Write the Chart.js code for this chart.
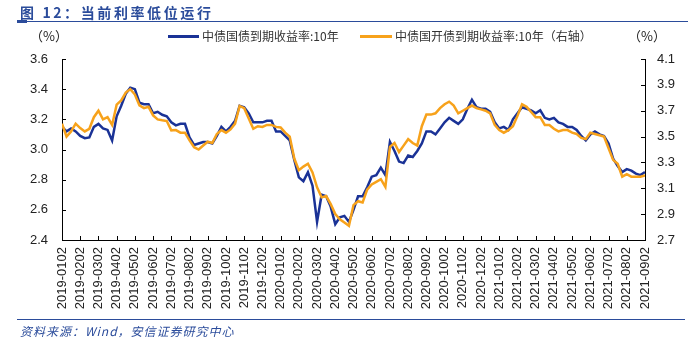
<!DOCTYPE html>
<html>
<head>
<meta charset="utf-8">
<script src="https://cdn.jsdelivr.net/npm/chart.js@4"></script>
<style>
  html, body { margin: 0; padding: 0; background: #fff; }
  #wrap { position: relative; width: 688px; height: 343px; overflow: hidden; font-family: "Liberation Sans", Arial, "Noto Sans CJK SC", sans-serif; }
  #title { position: absolute; left: 20px; top: 2px; font-size: 14px; font-weight: bold; color: #2b4c9b; font-family: "Noto Sans CJK SC", sans-serif; letter-spacing: 2.6px; white-space: nowrap; }
  #rule1 { position: absolute; left: 17px; top: 21px; width: 671px; height: 1px; background: #2b4c9b; }
  #rule1b { position: absolute; left: 17px; top: 20px; width: 10px; height: 3px; background: #2b4c9b; }
  #rule2 { position: absolute; left: 17px; top: 319px; width: 668px; height: 1px; background: #2b4c9b; }
  #source { position: absolute; left: 20px; top: 322px; font-size: 12px; font-style: italic; color: #2b4c9b; font-family: "Noto Sans CJK SC", sans-serif; letter-spacing: 1px; white-space: nowrap; }
  .unit { position: absolute; top: 26px; font-size: 13px; color: #222; font-family: "Noto Sans CJK SC", sans-serif; }
  .leg { position: absolute; top: 27px; font-size: 12px; color: #333; font-family: "Noto Sans CJK SC", sans-serif; white-space: nowrap; }
  .legline { position: absolute; top: 35px; height: 3px; }
  canvas { position: absolute; left: 0; top: 0; }
</style>
</head>
<body>
<div id="wrap">
  <canvas id="c" width="688" height="343"></canvas>
  <div id="title">图 12：当前利率低位运行</div>
  <div id="rule1"></div><div id="rule1b"></div>
  <div class="unit" style="left:30px;">（%）</div>
  <div class="unit" style="left:628px;">（%）</div>
  <div class="legline" style="left:168px;width:31px;background:#1a3296;"></div>
  <div class="leg" style="left:202px;">中债国债到期收益率:10年</div>
  <div class="legline" style="left:360px;width:32px;background:#f7a21b;"></div>
  <div class="leg" style="left:395px;">中债国开债到期收益率:10年（右轴）</div>
  <div id="rule2"></div>
  <div id="source">资料来源：Wind，安信证券研究中心</div>
</div>
<script>
// Tick labels (one per month start)
const monthLabels = [
  "2019-0102","2019-0202","2019-0302","2019-0402","2019-0502","2019-0602","2019-0702","2019-0802","2019-0902","2019-1002","2019-1102","2019-1202",
  "2020-0102","2020-0202","2020-0302","2020-0402","2020-0502","2020-0602","2020-0702","2020-0802","2020-0902","2020-1002","2020-1102","2020-1202",
  "2021-0102","2021-0202","2021-0302","2021-0402","2021-0502","2021-0602","2021-0702","2021-0802","2021-0902"
];
const pointsPerMonth = 4;

// 中债国债到期收益率:10年 (left axis), roughly weekly readings
const govYield = [
  3.15,3.12,3.14,3.12, 3.09,3.075,3.08,3.15, 3.17,3.14,3.13,3.06,
  3.22,3.29,3.37,3.41, 3.40,3.31,3.30,3.30, 3.24,3.25,3.23,3.22,
  3.18,3.16,3.17,3.17, 3.08,3.03,3.04,3.05, 3.05,3.04,3.09,3.15,
  3.12,3.15,3.19,3.29, 3.28,3.24,3.18,3.18, 3.18,3.19,3.19,3.12,
  3.12,3.09,3.06,2.93, 2.815,2.79,2.85,2.76, 2.52,2.70,2.69,2.62,
  2.505,2.55,2.56,2.52, 2.60,2.69,2.69,2.75, 2.82,2.83,2.88,2.83,
  3.05,2.99,2.92,2.91, 2.96,2.95,2.99,3.04, 3.12,3.12,3.10,3.14,
  3.18,3.21,3.19,3.17, 3.20,3.27,3.33,3.28, 3.27,3.27,3.25,3.18,
  3.14,3.15,3.13,3.20, 3.24,3.28,3.27,3.26, 3.24,3.26,3.21,3.20,
  3.21,3.18,3.17,3.15, 3.15,3.13,3.09,3.06, 3.10,3.12,3.10,3.09,
  3.04,2.94,2.89,2.85, 2.87,2.86,2.84,2.83, 2.85
];

// 中债国开债到期收益率:10年 (right axis)
const cdbYield = [
  3.60,3.50,3.54,3.60, 3.566,3.54,3.56,3.65, 3.70,3.633,3.65,3.59,
  3.747,3.78,3.84,3.867, 3.825,3.742,3.72,3.73, 3.664,3.633,3.626,3.62,
  3.548,3.55,3.53,3.53, 3.47,3.418,3.40,3.431, 3.46,3.45,3.52,3.55,
  3.53,3.555,3.60,3.737, 3.72,3.64,3.56,3.58, 3.575,3.59,3.59,3.575,
  3.57,3.53,3.50,3.33, 3.24,3.268,3.29,3.223, 3.107,3.03,3.04,2.977,
  2.90,2.86,2.835,2.81, 2.97,3.00,2.99,3.09, 3.13,3.15,3.17,3.11,
  3.42,3.45,3.38,3.43, 3.48,3.45,3.43,3.58, 3.67,3.67,3.68,3.72,
  3.75,3.77,3.74,3.68, 3.70,3.72,3.74,3.72, 3.71,3.70,3.68,3.59,
  3.55,3.53,3.55,3.58, 3.66,3.75,3.73,3.69, 3.65,3.65,3.59,3.59,
  3.56,3.54,3.55,3.55, 3.53,3.52,3.49,3.48, 3.53,3.52,3.51,3.50,
  3.41,3.32,3.29,3.19, 3.21,3.19,3.19,3.19, 3.20
];

const leftTicks = { min: 2.4, max: 3.6, step: 0.2 };
const rightTicks = { min: 2.7, max: 4.1, step: 0.2 };

const inwardTicks = {
  id: 'inwardTicks',
  afterDraw(chart) {
    const ctx = chart.ctx, a = chart.chartArea, len = 4;
    ctx.save();
    ctx.strokeStyle = '#000';
    ctx.lineWidth = 1;
    ctx.beginPath();
    chart.scales.x.ticks.forEach(t => {
      const px = Math.round(chart.scales.x.getPixelForValue(t.value)) + 0.5;
      ctx.moveTo(px, a.bottom); ctx.lineTo(px, a.bottom - len);
    });
    chart.scales.y.ticks.forEach(t => {
      const py = Math.round(chart.scales.y.getPixelForValue(t.value)) + 0.5;
      ctx.moveTo(a.left, py); ctx.lineTo(a.left + len, py);
    });
    chart.scales.y1.ticks.forEach(t => {
      const py = Math.round(chart.scales.y1.getPixelForValue(t.value)) + 0.5;
      ctx.moveTo(a.right, py); ctx.lineTo(a.right - len, py);
    });
    ctx.stroke();
    ctx.restore();
  }
};

const tickFont = { family: '"Liberation Sans", Arial, sans-serif', size: 13 };

new Chart(document.getElementById('c'), {
  type: 'line',
  data: {
    datasets: [
      {
        label: '中债国开债到期收益率:10年（右轴）',
        data: cdbYield.map((v, i) => ({ x: i, y: v })),
        yAxisID: 'y1',
        borderColor: '#f7a21b',
        borderWidth: 2.5,
        pointRadius: 0,
        tension: 0,
        order: 0
      },
      {
        label: '中债国债到期收益率:10年',
        data: govYield.map((v, i) => ({ x: i, y: v })),
        yAxisID: 'y',
        borderColor: '#1a3296',
        borderWidth: 2.5,
        pointRadius: 0,
        tension: 0,
        order: 1
      }
    ]
  },
  options: {
    responsive: false,
    animation: false,
    layout: { padding: { top: 59, left: 0, right: 0, bottom: 23 } },
    plugins: { legend: { display: false }, tooltip: { enabled: false } },
    scales: {
      x: {
        type: 'linear',
        min: 0,
        max: (monthLabels.length - 1) * pointsPerMonth,
        grid: { display: false, drawTicks: false },
        border: { display: true, color: '#000', width: 1 },
        afterFit(s) { s.height = 80; },
        ticks: {
          stepSize: pointsPerMonth,
          autoSkip: false,
          maxRotation: 90,
          minRotation: 90,
          padding: 7,
          color: '#222',
          font: tickFont,
          callback: v => monthLabels[Math.round(v / pointsPerMonth)]
        }
      },
      y: {
        position: 'left',
        min: leftTicks.min,
        max: leftTicks.max,
        grid: { display: false, drawTicks: false },
        border: { display: true, color: '#000', width: 1 },
        afterFit(s) { s.width = 62; },
        ticks: { stepSize: leftTicks.step, padding: 14, color: '#222', font: tickFont, callback: v => v.toFixed(1) }
      },
      y1: {
        position: 'right',
        min: rightTicks.min,
        max: rightTicks.max,
        grid: { display: false, drawTicks: false },
        border: { display: true, color: '#000', width: 1 },
        afterFit(s) { s.width = 43; },
        ticks: { stepSize: rightTicks.step, padding: 12, color: '#222', font: tickFont, callback: v => v.toFixed(1) }
      }
    }
  },
  plugins: [inwardTicks]
});
</script>
</body>
</html>
